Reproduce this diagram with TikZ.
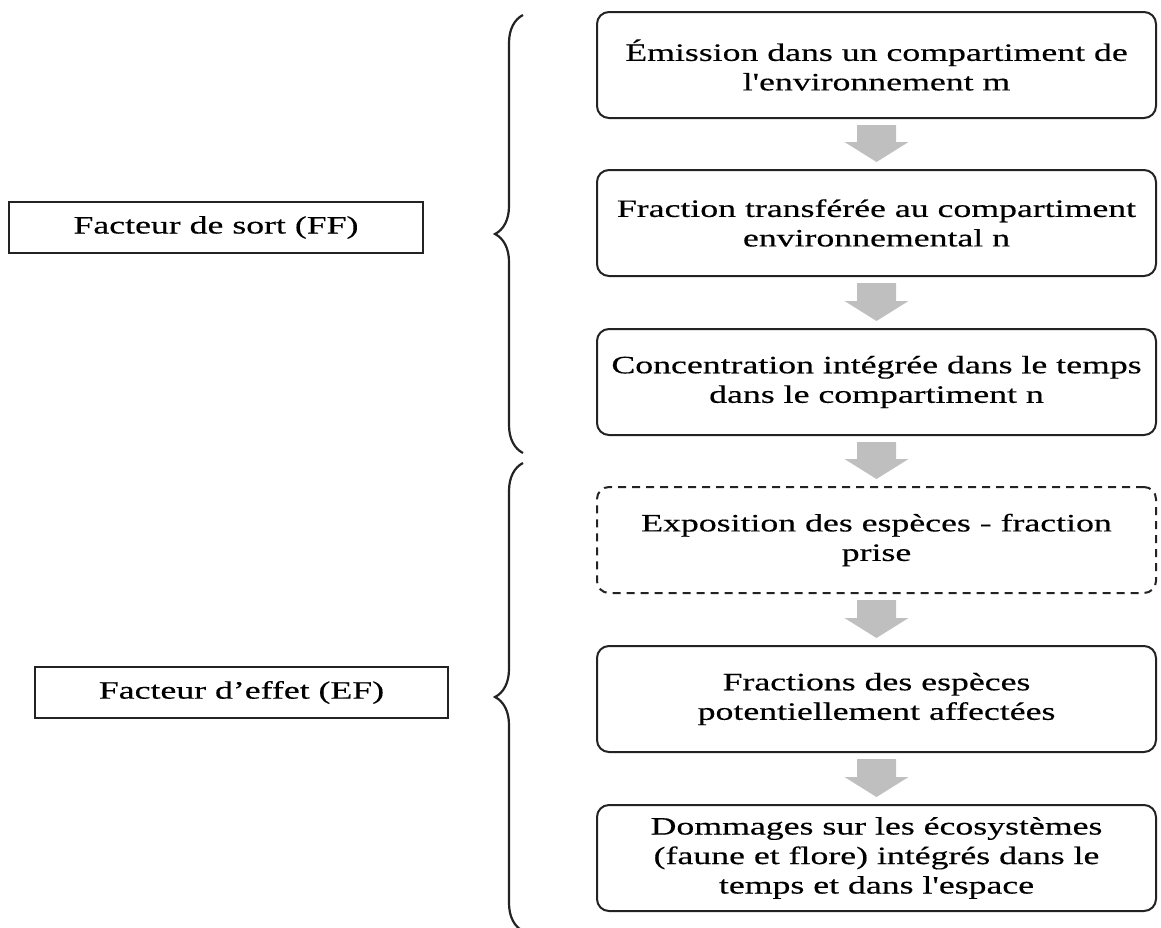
\documentclass[tikz,border=0pt]{standalone}
\usepackage{fontspec}
\setmainfont{Liberation Serif}[FakeStretch=1.43,FakeBold=0.4,Ligatures=TeXOff]
\usetikzlibrary{calc,decorations.pathreplacing}

\definecolor{flowgray}{RGB}{191,191,191}
\definecolor{inkline}{RGB}{35,35,35}

\newcommand\stagefont{\fontsize{25}{29.5}\selectfont}

\tikzset{
  stage/.style={draw=inkline, line width=2pt, rounded corners=12pt,
    minimum width=559pt, minimum height=106pt, inner sep=0pt,
    align=center, font=\stagefont},
  guessstage/.style={stage, dash pattern=on 8pt off 6pt},
  factor/.style={draw=inkline, line width=2pt, minimum height=51pt,
    inner sep=0pt, align=center, font=\stagefont},
  bracket/.style={draw=inkline, line width=2.2pt, decorate,
    decoration={brace, amplitude=28pt}},
}

% grey block arrow from the bottom of one stage to the top of the next
\newcommand\flowarrow[2]{%
  \fill[flowgray]
    ($(#1.south)+(-19.5,6)$) -- ($(#1.south)+(19.5,6)$)
    -- ($(#2.north)+(19.5,-27)$) -- ($(#2.north)+(32,-27)$)
    -- ($(#2.north)+(0,-7)$)
    -- ($(#2.north)+(-32,-27)$) -- ($(#2.north)+(-19.5,-27)$) -- cycle;}

\begin{document}
\begin{tikzpicture}[x=1pt, y=-1pt]
  \useasboundingbox (0,0) rectangle (1161,927);
  \clip (0,0) rectangle (1161,927);

  % chain of stages
  \node[stage] (emis) at (876.5,65)
    {Émission dans un compartiment de\\l'environnement m};
  \node[stage] (frac) at (876.5,223)
    {Fraction transférée au compartiment\\environnemental n};
  \node[stage] (conc) at (876.5,382)
    {Concentration intégrée dans le temps\\dans le compartiment n};
  \node[guessstage] (expo) at (876.5,540)
    {Exposition des espèces - fraction\\prise};
  \node[stage] (paf) at (876.5,699)
    {Fractions des espèces\\potentiellement affectées};
  \node[stage] (dmg) at (876.5,858)
    {Dommages sur les écosystèmes\\(faune et flore) intégrés dans le\\temps et dans l'espace};

  \flowarrow{emis}{frac}
  \flowarrow{frac}{conc}
  \flowarrow{conc}{expo}
  \flowarrow{expo}{paf}
  \flowarrow{paf}{dmg}

  % factor labels
  \node[factor, minimum width=414pt] (ff) at (216,227.5) {Facteur de sort (FF)};
  \node[factor, minimum width=413pt] (ef) at (241.5,692.5) {Facteur d’effet (EF)};

  % braces grouping the stages
  \draw[bracket] (523,453) -- (523,15);
  \draw[bracket] (523,931) -- (523,463);
\end{tikzpicture}
\end{document}
